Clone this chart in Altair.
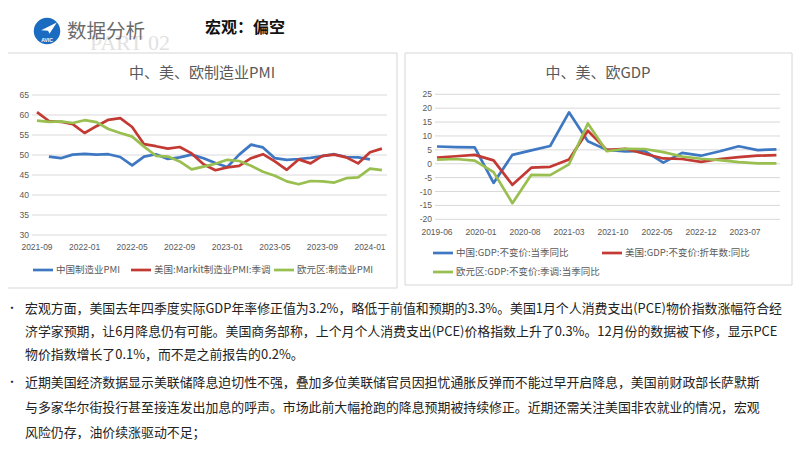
import altair as alt
import pandas as pd

# ---------------- data ----------------
pmi_months = [str(p) for p in pd.period_range("2021-09", "2024-02", freq="M")]
china_pmi_months = pmi_months[1:29]  # 2021-10 .. 2024-01
china_pmi = [49.6, 49.2, 50.1, 50.3, 50.1, 50.2, 49.5, 47.4, 49.6, 50.2, 49.0, 49.4,
             50.1, 49.2, 48.0, 47.0, 50.1, 52.6, 51.9, 49.2, 48.8, 49.0, 49.3, 49.7,
             50.2, 49.5, 49.4, 48.9]
us_pmi = [60.7, 58.5, 58.3, 57.7, 55.5, 57.2, 58.8, 59.2, 57.0, 52.7, 52.2, 51.6,
          52.0, 50.4, 47.7, 46.2, 46.9, 47.3, 49.2, 50.2, 48.4, 46.3, 48.9, 47.9,
          49.8, 50.1, 49.4, 47.9, 50.7, 51.6]
eu_pmi = [58.6, 58.3, 58.4, 58.0, 58.7, 58.2, 56.5, 55.5, 54.6, 52.1, 49.8, 49.6,
          48.4, 46.4, 47.1, 47.8, 48.8, 48.5, 47.3, 45.8, 44.8, 43.4, 42.7, 43.5,
          43.4, 43.1, 44.2, 44.4, 46.6, 46.2]
pmi_series = ["中国制造业PMI", "美国:Markit制造业PMI:季调", "欧元区:制造业PMI"]
pmi_x_labels = ["2021-09", "2022-01", "2022-05", "2022-09", "2023-01", "2023-05", "2023-09", "2024-01"]
pmi_y_ticks = [30, 35, 40, 45, 50, 55, 60, 65]

gdp_quarters = ["2019-06", "2019-09", "2019-12", "2020-03", "2020-06", "2020-09", "2020-12",
                "2021-03", "2021-06", "2021-09", "2021-12", "2022-03", "2022-06", "2022-09",
                "2022-12", "2023-03", "2023-06", "2023-09", "2023-12"]
china_gdp = [6.2, 6.0, 5.9, -6.9, 3.2, 4.8, 6.4, 18.5, 8.1, 5.0, 4.4, 4.6, 0.4, 3.9, 2.9, 4.5, 6.3, 4.9, 5.2]
us_gdp = [2.2, 2.7, 3.2, 1.2, -7.6, -1.4, -1.1, 1.5, 11.9, 5.0, 5.4, 3.6, 1.9, 1.7, 0.7, 1.7, 2.4, 2.9, 3.1]
eu_gdp = [1.5, 1.7, 1.1, -3.0, -14.2, -4.0, -4.1, -0.2, 14.5, 4.5, 5.4, 5.3, 4.2, 2.6, 1.8, 1.3, 0.6, 0.1, 0.1]
gdp_series = ["中国:GDP:不变价:当季同比", "美国:GDP:不变价:折年数:同比", "欧元区:GDP:不变价:季调:当季同比"]
gdp_x_labels = ["2019-06", "2020-01", "2020-08", "2021-03", "2021-10", "2022-05", "2022-12", "2023-07"]
gdp_y_ticks = [-20, -15, -10, -5, 0, 5, 10, 15, 20, 25]

pmi_title = "中、美、欧制造业PMI"
gdp_title = "中、美、欧GDP"
header_brand = "数据分析"
header_part = "PART 02"
header_title = "宏观：偏空"
para1 = ["宏观方面，美国去年四季度实际GDP年率修正值为3.2%，略低于前值和预期的3.3%。美国1月个人消费支出(PCE)物价指数涨幅符合经",
         "济学家预期，让6月降息仍有可能。美国商务部称，上个月个人消费支出(PCE)价格指数上升了0.3%。12月份的数据被下修，显示PCE",
         "物价指数增长了0.1%，而不是之前报告的0.2%。"]
para2 = ["近期美国经济数据显示美联储降息迫切性不强，叠加多位美联储官员因担忧通胀反弹而不能过早开启降息，美国前财政部长萨默斯",
         "与多家华尔街投行甚至接连发出加息的呼声。市场此前大幅抢跑的降息预期被持续修正。近期还需关注美国非农就业的情况，宏观",
         "风险仍存，油价续涨驱动不足；"]

# ---------------- styling ----------------
FONT = "Noto Sans CJK SC"
NUM_FONT = "Liberation Sans"
GRAY = "#595959"
GRID = "#d9d9d9"
COLORS = ["#3f78c2", "#c23a33", "#99bf50"]
OFF = 8  # page margin: reference pixel -> chart pixel


def V(v):
    return alt.value(v - OFF)


def midx(s, origin):
    y, m = map(int, s.split("-"))
    oy, om = map(int, origin.split("-"))
    return (y - oy) * 12 + (m - om)


one = pd.DataFrame({"k": [0]})

pmi_x = alt.Scale(domain=[0, 28], range=[37 - OFF, 370 - OFF], zero=False, nice=False)
pmi_y = alt.Scale(domain=[30, 65], range=[235 - OFF, 95 - OFF], zero=False, nice=False)
gdp_x = alt.Scale(domain=[0, 49], range=[437 - OFF, 745 - OFF], zero=False, nice=False)
gdp_y = alt.Scale(domain=[-20, 25], range=[219.3 - OFF, 94.3 - OFF], zero=False, nice=False)


def text(s, x, y, size, color=GRAY, font=FONT, align="left", baseline="middle", weight="normal"):
    return alt.Chart(one).mark_text(text=s, fontSize=size, color=color, font=font, align=align,
                                    baseline=baseline, fontWeight=weight).encode(x=V(x), y=V(y))


layers = []

# panel frames
for x0, x1, y0, y1 in [(4, 397, 53, 288), (405, 792, 53, 285)]:
    layers.append(alt.Chart(one).mark_rect(filled=False, stroke="#d6d6d6", strokeWidth=1)
                  .encode(x=V(x0), x2=V(x1), y=V(y0), y2=V(y1)))

# header
layers.append(text(header_part, 90, 50, 22, color="#e2e2e2", font="Liberation Serif", baseline="alphabetic"))
layers.append(alt.Chart(one).mark_point(shape="circle", filled=True, size=700, color="#1b6cc0", opacity=1)
              .encode(x=V(47), y=V(31)))
layers.append(alt.Chart(one).mark_point(shape="M -0.9 0.15 L 0.9 -0.75 L 0.05 0.55 L -0.1 0.2 Z", filled=True,
                                        size=300, color="white", opacity=1).encode(x=V(49), y=V(29)))
layers.append(text("AVIC", 47, 40, 5, color="white", align="center", font=NUM_FONT, weight="bold"))
layers.append(text(header_brand, 67, 32, 19.5, color="#6b6b6b"))
layers.append(text(header_title, 205, 28, 16, color="#111111", weight="bold"))


def panel(title, tx, xs, ys, xlabels, origin, yticks, grid_x0, grid_x1, ylab_x, xlab_y,
          months_list, values_list):
    out = []
    out.append(text(title, tx, 73, 15, align="center"))
    tdf = pd.DataFrame({"v": yticks, "lbl": [str(t) for t in yticks]})
    out.append(alt.Chart(tdf).mark_rule(color=GRID, strokeWidth=1)
               .encode(y=alt.Y("v:Q", scale=ys, axis=None), x=V(grid_x0), x2=V(grid_x1)))
    out.append(alt.Chart(tdf).mark_text(align="right", baseline="middle", font=NUM_FONT, fontSize=8.5, color=GRAY)
               .encode(y=alt.Y("v:Q", scale=ys, axis=None), x=V(ylab_x), text="lbl:N"))
    xdf = pd.DataFrame({"lbl": xlabels, "idx": [midx(s, origin) for s in xlabels]})
    out.append(alt.Chart(xdf).mark_text(align="center", baseline="middle", font=NUM_FONT, fontSize=8.5, color=GRAY)
               .encode(x=alt.X("idx:Q", scale=xs, axis=None), y=V(xlab_y), text="lbl:N"))
    for months, vals, col in zip(months_list, values_list, COLORS):
        df = pd.DataFrame({"idx": [midx(s, origin) for s in months], "v": vals})
        out.append(alt.Chart(df).mark_line(color=col, strokeWidth=2.7, strokeJoin="round")
                   .encode(x=alt.X("idx:Q", scale=xs, axis=None), y=alt.Y("v:Q", scale=ys, axis=None)))
    return out


layers += panel(pmi_title, 202, pmi_x, pmi_y, pmi_x_labels, "2021-09", pmi_y_ticks, 32, 387, 29, 247,
                [china_pmi_months, pmi_months, pmi_months], [china_pmi, us_pmi, eu_pmi])
layers += panel(gdp_title, 598, gdp_x, gdp_y, gdp_x_labels, "2019-06", gdp_y_ticks, 435, 780, 432, 232,
                [gdp_quarters] * 3, [china_gdp, us_gdp, eu_gdp])


# legends
def legend_item(label, color, x, y):
    return [alt.Chart(one).mark_rule(color=color, strokeWidth=2.7).encode(x=V(x), x2=V(x + 20), y=V(y)),
            text(label, x + 23, y, 9.5)]


for lbl, col, x in zip(pmi_series, COLORS, [33, 131, 274]):
    layers += legend_item(lbl, col, x, 270)
for lbl, col, (x, y) in zip(gdp_series, COLORS, [(433, 253), (602, 253), (433, 272)]):
    layers += legend_item(lbl, col, x, y)

# paragraphs
for lines, ys in [(para1, [309, 332, 355]), (para2, [383, 408, 433])]:
    layers.append(text("•", 12, ys[0], 11, color="#222222", align="center"))
    for line, y in zip(lines, ys):
        layers.append(text(line, 25, y, 12.9, color="#222222"))

chart = (alt.layer(*layers)
         .resolve_scale(x="independent", y="independent")
         .properties(width=786, height=435, autosize=alt.AutoSizeParams(type="none"), padding=0)
         .configure_view(stroke=None))

chart.save("out.html", embed_options={"renderer": "svg", "actions": False})
